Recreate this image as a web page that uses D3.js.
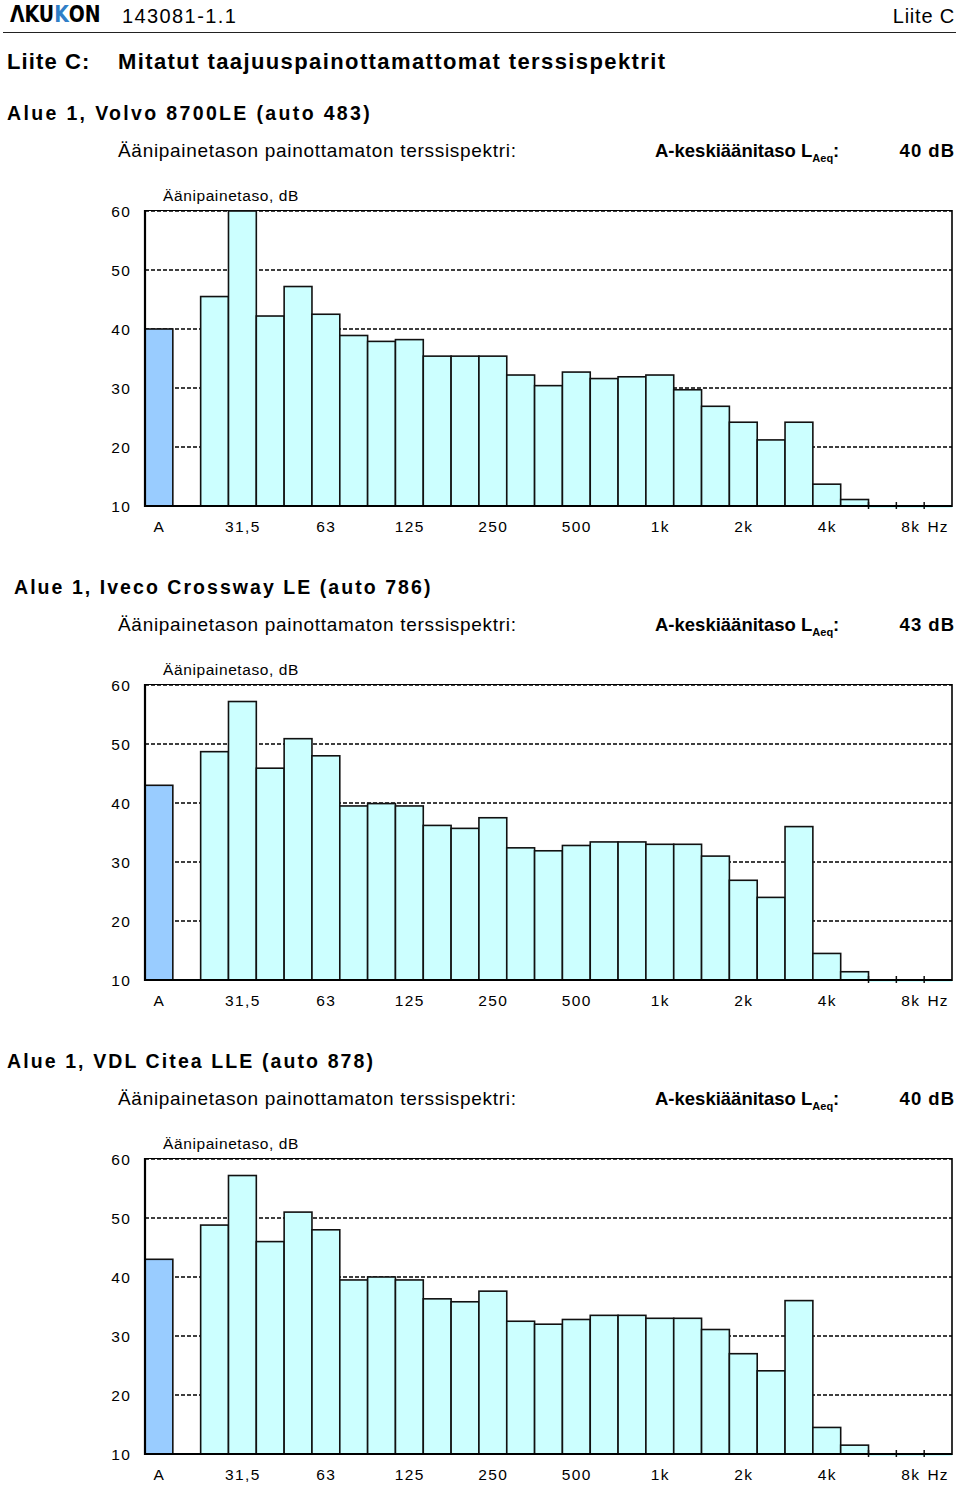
<!DOCTYPE html>
<html><head><meta charset="utf-8">
<script src="https://cdn.jsdelivr.net/npm/d3@7"></script>
<style>
body{margin:0;background:#fff;}
svg{display:block;font-family:"Liberation Sans",Arial,sans-serif;}
</style></head>
<body>
<svg id="c" width="960" height="1485"></svg>
<script>
// ---- data ----
const categories = ["A","20","25","31,5","40","50","63","80","100","125","160","200","250","315","400","500","630","800","1k","1,25k","1,6k","2k","2,5k","3,15k","4k","5k","6,3k","8k","10k"];
const tickLabels = ["A","31,5","63","125","250","500","1k","2k","4k","8k"];
const yTicks = [10,20,30,40,50,60];

const titles = ["Alue 1, Volvo 8700LE (auto 483)","Alue 1, Iveco Crossway LE (auto 786)","Alue 1, VDL Citea LLE (auto 878)"];
const laeqLabels = ["40 dB","43 dB","40 dB"];

const values1 = [40,null,45.5,60,42.2,47.2,42.5,38.9,37.9,38.2,35.4,35.4,35.4,32.2,30.4,32.7,31.6,31.9,32.2,29.7,26.9,24.2,21.2,24.2,13.7,11.1,9,8,8];
const values2 = [43,null,48.7,57.2,45.9,50.9,48.0,39.5,39.9,39.5,36.2,35.7,37.5,32.4,31.9,32.8,33.4,33.4,33.0,33.0,31.0,26.9,24.0,36.0,14.5,11.4,9,8,8];
const values3 = [43,null,48.8,57.2,46.0,51.0,48.0,39.5,40.0,39.5,36.3,35.8,37.6,32.5,32.0,32.8,33.5,33.5,33.0,33.0,31.1,27.0,24.1,36.0,14.5,11.5,9,8,8];

const series = [values1, values2, values3];

const svg = d3.select("#c");

// ---- page header ----
const logo = svg.append("text").attr("transform","translate(10,22) scale(0.82,1)").attr("font-size",23).attr("font-weight",900)
  .attr("font-family","'DejaVu Sans',sans-serif");
logo.append("tspan").text("ΛKU");
logo.append("tspan").attr("fill","#2f7fc8").text("K");
logo.append("tspan").text("ON");
svg.append("text").attr("x",122).attr("y",23).attr("font-size",20).attr("letter-spacing",1.4).text("143081-1.1");
svg.append("text").attr("x",955).attr("y",23).attr("font-size",20).attr("text-anchor","end").attr("letter-spacing",0.8).text("Liite C");
svg.append("line").attr("x1",3).attr("x2",956).attr("y1",32.5).attr("y2",32.5).attr("stroke","#222").attr("stroke-width",1.2);
svg.append("text").attr("x",7).attr("y",69).attr("font-size",22).attr("font-weight","bold").attr("letter-spacing",1.1).text("Liite C:");
svg.append("text").attr("x",118).attr("y",69).attr("font-size",22).attr("font-weight","bold").attr("letter-spacing",1.4).text("Mitatut taajuuspainottamattomat terssispektrit");

// ---- charts ----
const x = d3.scaleBand().domain(categories).range([145,952]).padding(0);
const titleX = [7,14,7];
const titleSpacing = [2.35,2.05,2.1];

series.forEach((vals, k) => {
  const off = k*474;
  const y = d3.scaleLinear().domain([10,60]).range([506+off, 211+off]);
  const g = svg.append("g");

  g.append("text").attr("x",titleX[k]).attr("y",120+off).attr("font-size",19.5).attr("font-weight","bold")
    .attr("letter-spacing",titleSpacing[k]).text(titles[k]);
  g.append("text").attr("x",118).attr("y",157+off).attr("font-size",19).attr("letter-spacing",0.7)
    .text("Äänipainetason painottamaton terssispektri:");
  const lt = g.append("text").attr("x",655).attr("y",157+off).attr("font-size",18.5).attr("font-weight","bold");
  lt.append("tspan").text("A-keskiäänitaso L");
  lt.append("tspan").attr("font-size",11).attr("dy",5).text("Aeq");
  lt.append("tspan").attr("dy",-5).text(":");
  g.append("text").attr("x",955).attr("y",157+off).attr("font-size",18.5).attr("font-weight","bold")
    .attr("text-anchor","end").attr("letter-spacing",1).text(laeqLabels[k]);
  g.append("text").attr("x",163).attr("y",201+off).attr("font-size",15.5).attr("letter-spacing",0.6).text("Äänipainetaso, dB");

  // grid lines
  g.selectAll(".grid").data(yTicks.filter(t=>t>10)).enter().append("line")
    .attr("x1",x.range()[0]).attr("x2",x.range()[1])
    .attr("y1",d=>y(d)).attr("y2",d=>y(d))
    .attr("stroke","#000").attr("stroke-width",1.3).attr("stroke-dasharray","4,2");
  g.append("line").attr("x1",x.range()[0]).attr("x2",x.range()[1]).attr("y1",y(60)-0.5).attr("y2",y(60)-0.5)
    .attr("stroke","#000").attr("stroke-width",1);

  // bars
  const data = categories.map((c,i)=>({c, v: vals[i], i}));
  g.selectAll(".bar").data(data.filter(d=>d.v!=null && d.v>10)).enter().append("rect")
    .attr("x",d=>x(d.c)).attr("width",x.bandwidth())
    .attr("y",d=>y(Math.min(d.v,60))).attr("height",d=>y(10)-y(Math.min(d.v,60)))
    .attr("fill",d=>d.i===0?"#99ccff":"#ccffff")
    .attr("stroke","#111").attr("stroke-width",1.6);
  const low = data.filter(d=>d.v!=null && d.v<=10);
  g.selectAll(".lowbar").data(low).enter().append("rect")
    .attr("x",d=>x(d.c)).attr("width",x.bandwidth()).attr("y",y(10)).attr("height",2)
    .attr("fill","#ccffff");
  g.selectAll(".lowtick").data(low).enter().append("line")
    .attr("x1",d=>x(d.c)).attr("x2",d=>x(d.c))
    .attr("y1",y(10)-4).attr("y2",y(10)+3).attr("stroke","#111").attr("stroke-width",1.5);

  // axes frame
  g.append("line").attr("x1",x.range()[0]).attr("x2",x.range()[0]).attr("y1",y(60)-1).attr("y2",y(10)+1)
    .attr("stroke","#000").attr("stroke-width",2.2);
  g.append("line").attr("x1",x.range()[1]).attr("x2",x.range()[1]).attr("y1",y(60)-1).attr("y2",y(10)+1)
    .attr("stroke","#000").attr("stroke-width",1.6);
  g.append("line").attr("x1",x.range()[0]).attr("x2",x.range()[1]).attr("y1",y(10)).attr("y2",y(10))
    .attr("stroke","#000").attr("stroke-width",2);

  // y tick labels
  g.selectAll(".yl").data(yTicks).enter().append("text")
    .attr("x",131).attr("y",d=>y(d)).attr("dy","0.36em").attr("text-anchor","end")
    .attr("font-size",15.5).attr("letter-spacing",1.2).text(d=>d);
  // x tick labels
  g.selectAll(".xl").data(tickLabels).enter().append("text")
    .attr("x",d=>x(d)+x.bandwidth()/2+0.5).attr("y",532+off).attr("text-anchor","middle")
    .attr("font-size",15.5).attr("letter-spacing",1.4).text(d=>d);
  g.append("text").attr("x",x(categories[categories.length-1])+x.bandwidth()/2).attr("y",532+off)
    .attr("text-anchor","middle").attr("font-size",15.5).attr("letter-spacing",1).text("Hz");
});
</script>
</body></html>
